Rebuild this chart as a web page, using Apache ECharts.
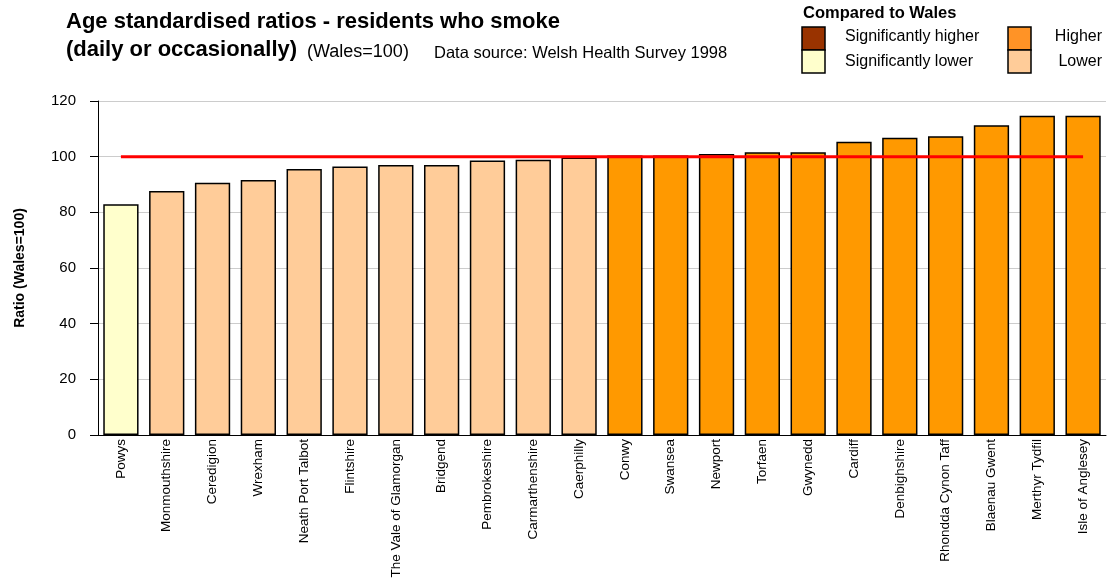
<!DOCTYPE html>
<html>
<head>
<meta charset="utf-8">
<script src="https://cdn.jsdelivr.net/npm/echarts@6/dist/echarts.min.js"></script>
<style>
    html, body { margin: 0; padding: 0; background: #fff; }
    #chart { width: 1108px; height: 581px; }
</style>
</head>
<body>
<div id="chart"></div>
<script>
var areas = ['Powys', 'Monmouthshire', 'Ceredigion', 'Wrexham', 'Neath Port Talbot', 'Flintshire',
    'The Vale of Glamorgan', 'Bridgend', 'Pembrokeshire', 'Carmarthenshire', 'Caerphilly', 'Conwy',
    'Swansea', 'Newport', 'Torfaen', 'Gwynedd', 'Cardiff', 'Denbighshire', 'Rhondda Cynon Taff',
    'Blaenau Gwent', 'Merthyr Tydfil', 'Isle of Anglesey'];
var ratios = [82.9, 87.7, 90.6, 91.6, 95.6, 96.5, 97.0, 97.0, 98.6, 98.9, 99.7, 100.4,
    100.4, 101.0, 101.6, 101.6, 105.4, 106.8, 107.3, 111.3, 114.7, 114.7];
// compared to Wales
var groups = ['sigLower', 'lower', 'lower', 'lower', 'lower', 'lower', 'lower', 'lower', 'lower', 'lower', 'lower',
    'higher', 'higher', 'higher', 'higher', 'higher', 'higher', 'higher', 'higher', 'higher', 'higher', 'higher'];
var walesLine = [100, 100, 100, 100, 100, 100, 100, 100, 100, 100, 100,
    100, 100, 100, 100, 100, 100, 100, 100, 100, 100, 100];
var yTicks = { min: 0, max: 120, step: 20 };

var groupColors = {
    sigHigher: '#993300',
    higher: '#ff9900',
    sigLower: '#ffffcc',
    lower: '#ffcc99'
};
var font = "'Liberation Sans', Arial, sans-serif";

var barData = ratios.map(function(v, i) {
    return {
        value: v,
        itemStyle: { color: groupColors[groups[i]] }
    };
});

// legend boxes + text
function legendBox(x, y, color) {
    return {
        type: 'rect',
        shape: { x: x, y: y, width: 23, height: 23 },
        style: { fill: color, stroke: '#000', lineWidth: 1.5 }
    };
}
function label(x, y, txt, f, align) {
    return {
        type: 'text',
        x: x,
        y: y,
        style: { text: txt, font: f, fill: '#000', align: align || 'left', verticalAlign: 'middle' }
    };
}

var myChart = echarts.init(document.getElementById('chart'));
var option = {
    animation: false,
    backgroundColor: '#fff',
    textStyle: { fontFamily: font },
    grid: { left: 98, right: 2, top: 101, bottom: 146 },
    xAxis: [{
        type: 'category',
        data: areas,
        axisLine: { lineStyle: { color: '#000', width: 1 } },
        axisTick: { length: 8, lineStyle: { color: '#000' } },
        axisLabel: {
            rotate: 90,
            interval: 0,
            margin: 4,
            padding: [0, 0, 8, 0],
            color: '#000',
            fontSize: 13.5,
            fontFamily: font
        }
    }, {
        // inner half of the crossing ticks
        type: 'category',
        data: areas,
        position: 'bottom',
        axisLine: { show: false },
        axisTick: { inside: true, length: 5, lineStyle: { color: '#000' } },
        axisLabel: { show: false }
    }],
    yAxis: {
        type: 'value',
        min: yTicks.min,
        max: yTicks.max,
        interval: yTicks.step,
        name: 'Ratio (Wales=100)',
        nameLocation: 'middle',
        nameRotate: 90,
        nameGap: 71,
        nameTextStyle: { color: '#000', fontSize: 14, fontWeight: 'bold', fontFamily: font },
        axisLine: { show: true, lineStyle: { color: '#000', width: 1 } },
        axisTick: { show: true, length: 8, lineStyle: { color: '#000' } },
        axisLabel: { color: '#000', fontSize: 15, margin: 22, fontFamily: font },
        splitLine: { lineStyle: { color: '#cccccc', width: 1 } }
    },
    series: [{
        name: 'Ratio',
        type: 'bar',
        barCategoryGap: '23%',
        data: barData,
        itemStyle: { borderColor: '#000', borderWidth: 1.5 }
    }, {
        name: 'Wales',
        type: 'line',
        data: walesLine,
        symbol: 'none',
        z: 5,
        lineStyle: { color: '#ff0000', width: 3 }
    }],
    graphic: [
        label(66, 22, 'Age standardised ratios - residents who smoke', 'bold 22px ' + font),
        label(66, 50, '(daily or occasionally)', 'bold 22px ' + font),
        label(307, 52, '(Wales=100)', '18px ' + font),
        label(434, 53, 'Data source: Welsh Health Survey 1998', '16.5px ' + font),
        label(803, 13, 'Compared to Wales', 'bold 16.5px ' + font),
        legendBox(802, 27, groupColors.sigHigher),
        legendBox(802, 50, groupColors.sigLower),
        legendBox(1008, 27, '#ff9326'),
        legendBox(1008, 50, groupColors.lower),
        label(845, 37, 'Significantly higher', '16px ' + font),
        label(845, 62, 'Significantly lower', '16px ' + font),
        label(1102, 37, 'Higher', '16px ' + font, 'right'),
        label(1102, 62, 'Lower', '16px ' + font, 'right')
    ]
};
myChart.setOption(option);
</script>
</body>
</html>
